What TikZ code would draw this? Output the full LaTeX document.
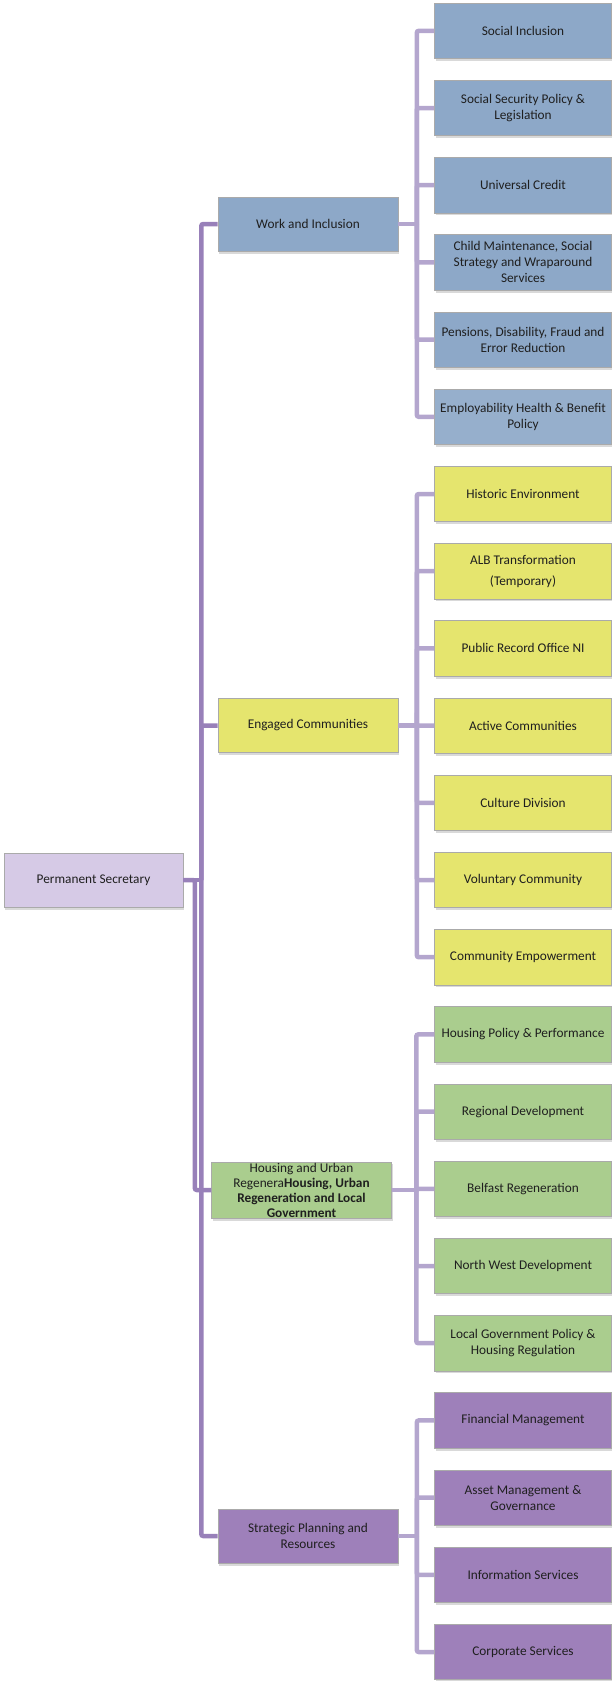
\documentclass[tikz,border=0pt]{standalone}
\usepackage{fontspec}
\setmainfont{Carlito}
\usetikzlibrary{shadows}
\definecolor{pscol}{RGB}{214,202,230}
\definecolor{workcol}{RGB}{141,168,200}
\definecolor{commcol}{RGB}{229,229,110}
\definecolor{housecol}{RGB}{170,205,142}
\definecolor{plancol}{RGB}{158,128,186}
\definecolor{trunkcol}{RGB}{152,128,185}
\definecolor{branchcol}{RGB}{180,166,206}
\definecolor{edgecol}{RGB}{170,170,170}

\begin{document}
\begin{tikzpicture}[
    x=1pt, y=-1pt,
    box/.style={rectangle, draw=edgecol, line width=0.6pt, align=center, inner sep=1pt,
        font=\fontsize{13.3}{16}\selectfont, text=black!88,
        drop shadow={shadow xshift=1pt, shadow yshift=-2.5pt, opacity=0.3}},
    head/.style={box, minimum width=180pt, minimum height=54pt},
    unit/.style={box, minimum width=177pt, minimum height=55.5pt},
    trunk/.style={draw=trunkcol, line width=4.5pt, rounded corners=2pt},
    branch/.style={draw=branchcol, line width=4.5pt, rounded corners=2pt},
]
\useasboundingbox (0,0) rectangle (612,1681);

% top of the chart
\node[box, minimum width=179pt, minimum height=54pt, fill=pscol] (ps) at (93.5,880) {Permanent Secretary};

% the four groups
\node[head, fill=workcol] (wi) at (308,224) {Work and Inclusion};
\node[head, fill=commcol] (ec) at (308,725.5) {Engaged Communities};
\node[head, fill=housecol, font=\fontsize{13.3}{15}\selectfont] (hu) at (301.5,1190) {Housing and Urban\\Regenera\textbf{Housing, Urban}\\\textbf{Regeneration and Local}\\\textbf{Government}};
\node[head, fill=plancol] (spr) at (308,1536) {Strategic Planning and\\Resources};

% Work and Inclusion
\node[unit, fill=workcol] (soc) at (523,30.8) {Social Inclusion};
\node[unit, fill=workcol] (ssp) at (523,108) {Social Security Policy \&\\Legislation};
\node[unit, fill=workcol] (uc) at (523,185.2) {Universal Credit};
\node[unit, fill=workcol] (cm) at (523,262.4) {Child Maintenance, Social\\Strategy and Wraparound\\Services};
\node[unit, fill=workcol] (pdf) at (523,339.6) {Pensions, Disability, Fraud and\\Error Reduction};
\node[unit, fill=workcol!92!white] (ehb) at (523,416.8) {Employability Health \& Benefit\\Policy};

% Engaged Communities
\node[unit, fill=commcol] (he) at (523,494) {Historic Environment};
\node[unit, fill=commcol] (alb) at (523,571.2) {ALB Transformation\\[5pt](Temporary)};
\node[unit, fill=commcol] (pro) at (523,648.4) {Public Record Office NI};
\node[unit, fill=commcol] (ac) at (523,725.6) {Active Communities};
\node[unit, fill=commcol] (cd) at (523,802.8) {Culture Division};
\node[unit, fill=commcol] (vc) at (523,880) {Voluntary Community};
\node[unit, fill=commcol] (ce) at (523,957.2) {Community Empowerment};

% Housing, Urban Regeneration and Local Government
\node[unit, fill=housecol] (hpp) at (523,1034.4) {Housing Policy \& Performance};
\node[unit, fill=housecol] (rd) at (523,1111.6) {Regional Development};
\node[unit, fill=housecol] (br) at (523,1188.8) {Belfast Regeneration};
\node[unit, fill=housecol] (nwd) at (523,1266) {North West Development};
\node[unit, fill=housecol] (lgp) at (523,1343.2) {Local Government Policy \&\\Housing Regulation};

% Strategic Planning and Resources
\node[unit, fill=plancol] (fm) at (523,1420.4) {Financial Management};
\node[unit, fill=plancol] (amg) at (523,1497.6) {Asset Management \&\\Governance};
\node[unit, fill=plancol] (is) at (523,1574.8) {Information Services};
\node[unit, fill=plancol] (cs) at (523,1652) {Corporate Services};

% links to the groups
\draw[trunk] (ps.east) -- ++(18,0) coordinate (psj);
\draw[trunk] (psj) |- (wi.west);
\draw[trunk] (psj) |- (ec.west);
\draw[trunk] (psj) |- (spr.west);
\draw[trunk] (ps.east) -- ++(11.5,0) |- (hu.west);

% links to the units
\draw[branch] (wi.east) -- ++(18.5,0) coordinate (wij);
\draw[branch] (wij) |- (soc.west);
\draw[branch] (wij) |- (ssp.west);
\draw[branch] (wij) |- (uc.west);
\draw[branch] (wij) |- (cm.west);
\draw[branch] (wij) |- (pdf.west);
\draw[branch] (wij) |- (ehb.west);

\draw[branch] (ec.east) -- ++(18.5,0) coordinate (ecj);
\draw[branch] (ecj) |- (he.west);
\draw[branch] (ecj) |- (alb.west);
\draw[branch] (ecj) |- (pro.west);
\draw[branch] (ecj) |- (ac.west);
\draw[branch] (ecj) |- (cd.west);
\draw[branch] (ecj) |- (vc.west);
\draw[branch] (ecj) |- (ce.west);

\draw[branch] (hu.east) -- ++(24.5,0) coordinate (huj);
\draw[branch] (huj) |- (hpp.west);
\draw[branch] (huj) |- (rd.west);
\draw[branch] (huj) |- (br.west);
\draw[branch] (huj) |- (nwd.west);
\draw[branch] (huj) |- (lgp.west);

\draw[branch] (spr.east) -- ++(18.5,0) coordinate (sprj);
\draw[branch] (sprj) |- (fm.west);
\draw[branch] (sprj) |- (amg.west);
\draw[branch] (sprj) |- (is.west);
\draw[branch] (sprj) |- (cs.west);
\end{tikzpicture}
\end{document}
